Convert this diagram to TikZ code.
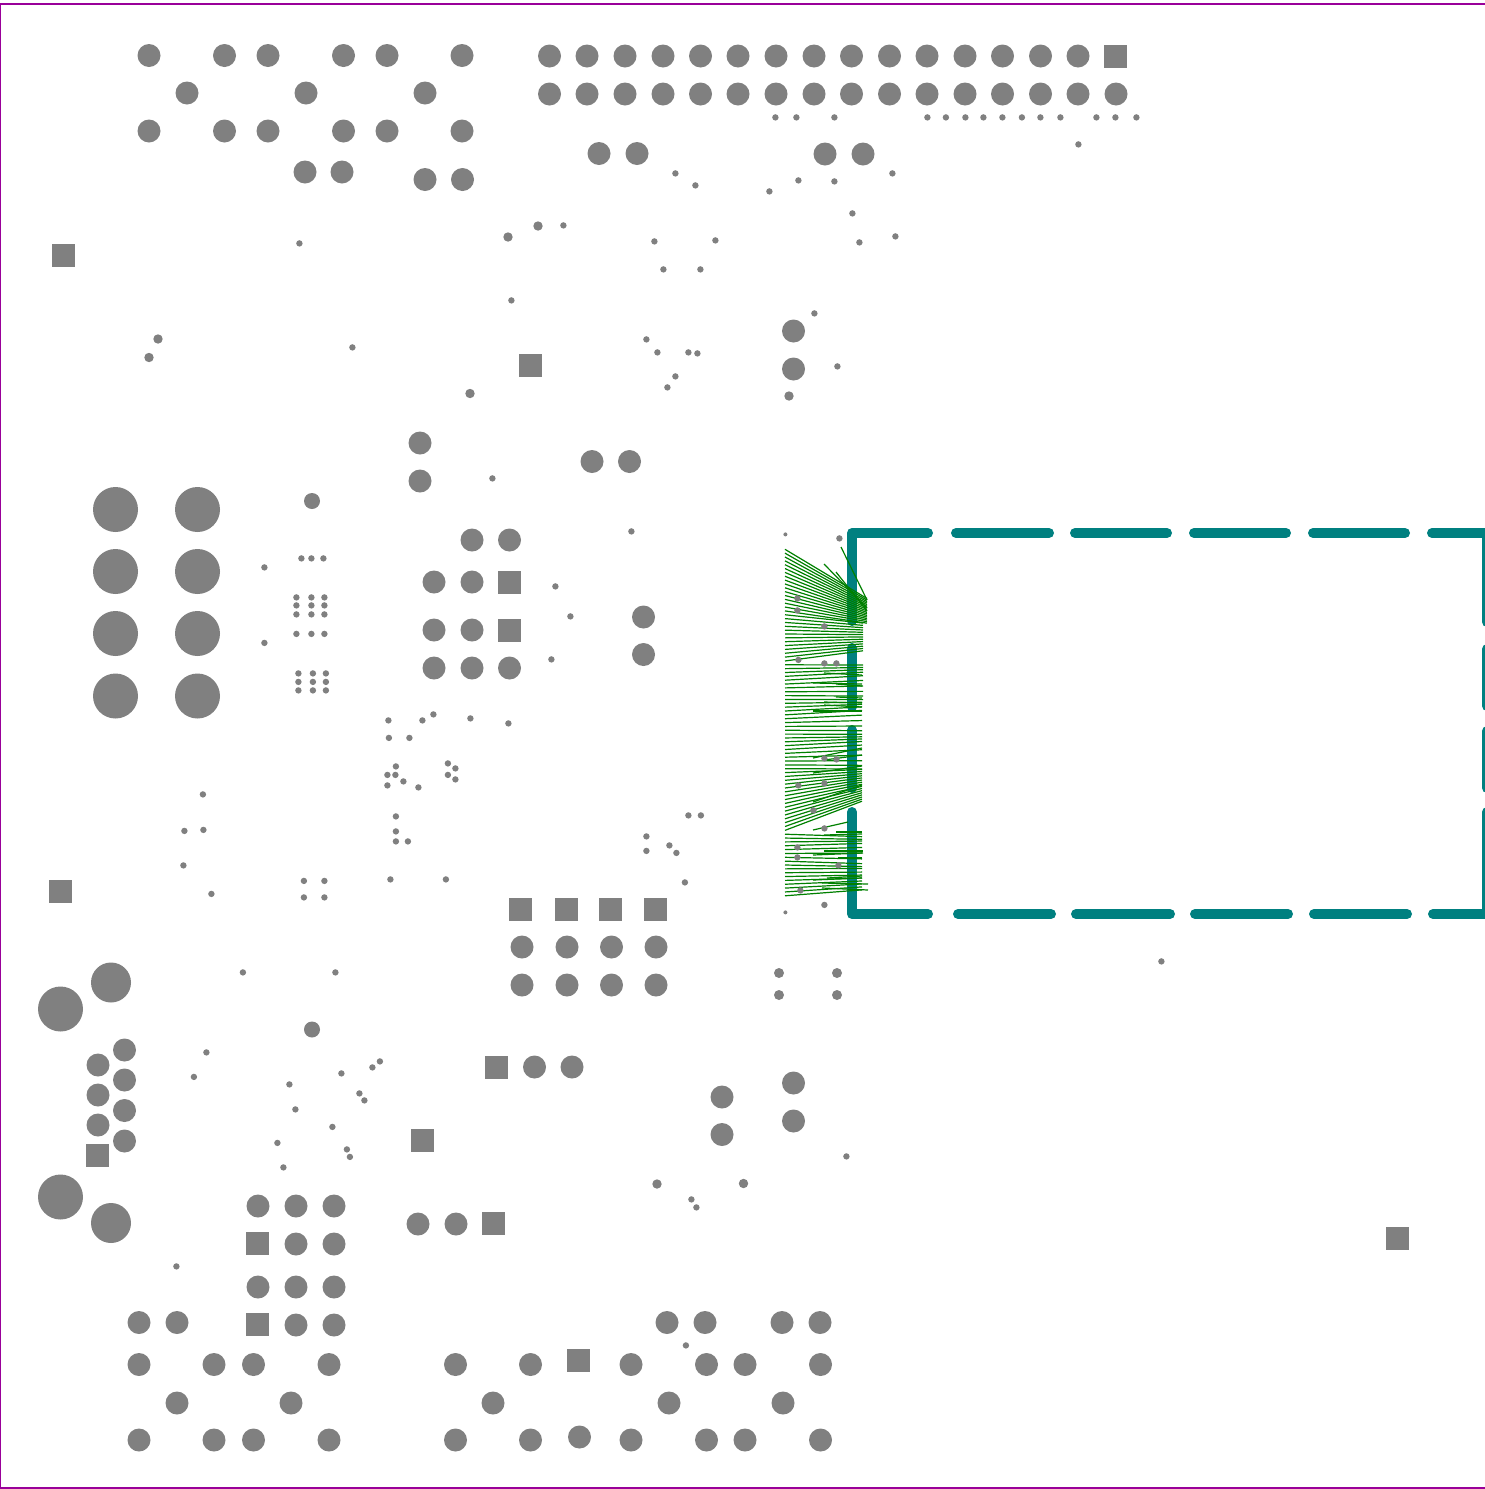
\documentclass[tikz,border=0pt]{standalone}
\definecolor{boardedge}{RGB}{153,0,153}
\definecolor{tracegreen}{RGB}{0,128,0}
\tikzset{
  pad/.style={fill=gray},
  trace/.style={draw=tracegreen,line width=1.2pt},
  outline/.style={draw=teal,line width=10pt,line cap=round,line join=round}
}
\begin{document}
\begin{tikzpicture}[x=1pt,y=-1pt]
  \clip (0,0) rectangle (1485,1489);
  \draw[draw=boardedge,line width=1.3pt] (0.5,4) rectangle (1495,1488);
  \draw[outline] (928,533) -- (852,533) -- (852,621);
  \draw[outline] (928,914) -- (852,914) -- (852,812);
  \draw[outline] (852,648) -- (852,707);
  \draw[outline] (852,730) -- (852,788);
  \foreach \a/\b in {956/1049,1075/1167,1194/1286,1313/1405} \draw[outline] (\a,533) -- (\b,533);
  \foreach \a/\b in {958/1051,1076/1170,1195/1288,1314/1407} \draw[outline] (\a,914) -- (\b,914);
  \draw[outline] (1432,533) -- (1487,533) -- (1487,622);
  \draw[outline] (1433,914) -- (1487,914) -- (1487,812);
  \draw[outline] (1487,649) -- (1487,706);
  \draw[outline] (1487,731) -- (1487,788);
  \foreach \i in {0,...,90} {
    \pgfmathsetmacro{\yl}{549.3+3.85*\i}
    \pgfmathsetmacro{\yr}{\yl<613 ? 598+0.4*(\yl-548) : (\yl<663 ? 622+0.6*(\yl-613) : (\yl<770 ? \yl-2+2.5*sin(40*\i) : (\yl<834 ? 768+0.55*(\yl-770) : (\yl<870 ? \yl+2.5*sin(50*\i) : 870+0.77*(\yl-870)))))}
    \pgfmathsetmacro{\xr}{\yl<613 ? 867 : (\yl<700 ? 863 : 862)}
    \draw[trace] (785,\yl) -- (\xr,\yr);
  }
  \foreach \a/\b/\c/\d in {841/547/867/600,824/564/867/608,836/572/867/611,824/673/862/675,
    813/683/862/684,836/684/862/686,836/697/862/698,824/702/862/703,824/705/862/707,813/711/862/711,
    813/758/862/748,824/760/862/755,813/773/862/766,813/802/862/785,813/830/848/822,824/835/862/834,
    836/832/862/832,813/855/863/853,824/851/863/851,838/858/862/858,813/880/862/878,827/878/862/876,
    822/883/868/884,822/888/868/890} \draw[trace] (\a,\b) -- (\c,\d);
  % big through holes
  \foreach \x/\y in {149/55.5,224.5/55.5,268/55.5,343.5/55.5,387/55.5,462/55.5,187/93,306/93,425/93,149/131,224.5/131,268/131,343.5/131,387/131,462/131,
    305/172,342/172,425/179.5,462.5/179.5,599/153.5,637/153.5,825/154,863/154,793.5/331,793.5/369,420/443,420/481,592/461.5,629.5/461.5,
    472/540,509.5/540,434/582,472/582,434/630,472/630,434/668,472/668,509.5/668,643.5/617,643.5/654.5,
    522/947,567/947,611.5/947,656/947,522/985,567/985,611.5/985,656/985,
    124.5/1050,124.5/1080,124.5/1110.5,124.5/1141,98/1065,98/1095,98/1125,534.5/1067,572/1067,
    722/1097,722/1134.5,793.5/1083,793.5/1121,258/1206,296/1206,334/1206,296/1244,334/1244,258/1287,296/1287,334/1287,296/1325,334/1325,
    418/1224,456/1224,139/1322.5,177/1322.5,667/1322.5,705/1322.5,782/1322.5,820/1322.5,
    139/1364.5,214/1364.5,253.5/1364.5,329/1364.5,455.5/1364.5,530.5/1364.5,631/1364.5,706.5/1364.5,745/1364.5,820.5/1364.5,
    177/1403,291/1403,493/1403,669/1403,783/1403,
    139/1440,214/1440,253.5/1440,329/1440,455.5/1440,530.5/1440,631/1440,706.5/1440,745/1440,820.5/1440,579.5/1437}
    \fill[pad] (\x,\y) circle (11.5pt);
  \foreach \x in {549.5,587,625,663,700.5,738,776,814,851.5,889.5,927,965,1002.5,1040.5,1078} \fill[pad] (\x,56) circle (11.5pt);
  \foreach \x in {549.5,587,625,663,700.5,738,776,814,851.5,889.5,927,965,1002.5,1040.5,1078,1116} \fill[pad] (\x,94) circle (11.5pt);
  % square pads
  \foreach \x/\y in {1115.5/56,63.5/255,530.5/365,509.5/582,509.5/630,60.5/891.5,520.5/909,566.5/909,610.5/909,655.5/909,496.5/1067,
    97.5/1155.5,422.5/1140.5,257.5/1243.5,257.5/1324.5,493.5/1223.5,1397.5/1238.5,578.5/1360.5}
    \fill[pad] (\x-11.5,\y-11.5) rectangle ++(23,23);
  % mounting holes
  \foreach \x/\y in {115.5/509.5,197.5/509.5,115.5/571.5,197.5/571.5,115.5/633.5,197.5/633.5,115.5/696,197.5/696,60.5/1009,60.5/1197}
    \fill[pad] (\x,\y) circle (22.5pt);
  \fill[pad] (111,982.5) circle (20pt);
  \fill[pad] (111,1223) circle (20pt);
  \fill[pad] (312,501) circle (8pt);
  \fill[pad] (312,1029.5) circle (8pt);
  \foreach \x/\y in {508/237,538/226,158/339,149/357.5,470/393.5,789/396,657/1184,743.5/1183.5} \fill[pad] (\x,\y) circle (4.7pt);
  \foreach \x/\y in {779/973,837/973,779/995,837/995} \fill[pad] (\x,\y) circle (5pt);
  % vias
  \begin{scope}[shift={(0.4,0.4)}]
  \foreach \x in {775,796,834,927,945.5,965,983,1002,1021.5,1040,1060,1096,1115,1136} \fill[pad] (\x,117) circle (3.2pt);
  \foreach \x/\y in {1078/144,675/173,695/185,769/191,798/180,834/181,892/173,852/213,859/242,895/236,715/240,654/241,663/269,700/269,
    563/225,511/300,299/243,352/347,646/339,657/352,688/352,697/353,675/376,667/387,814/313,837/366,492/478,631/531,
    555/586,570/616,551/659,301/558,311/558,323/558,296/597,311/597,324/597,296/605,311/605,324/605,296/614,311/614,324/614,
    296/633.5,311/633.5,324/633.5,298/673,312.5/673,325.5/673,298/681.5,312.5/681.5,325.5/681.5,298/690,312.5/690,325.5/690,264/567,264/642.5,
    388/720,388.5/737.5,409/737.5,422/720,433/714,470/718,508/723,395.5/766,395/774.5,387/774.5,387/785,403/781,418/787,
    447.5/763,455/768,447.5/774.5,455/779,395.5/816,395.5/831,395.5/841,407.5/841,390/879,445.5/879,
    202.5/794,184/830.5,203/829.5,183/865,211/893.5,303.5/880.5,324/880.5,303.5/897,324/897,
    646/836,646/850.5,669/845,676/852.5,688/815,700.5/815,684.5/882,839/538,824/904.5,
    797/598,797/610,824/626,798/659.5,824/663,836/663,824/758,836/759,798/785,824/783,813/810,824/828,797/847,797/857,838/865,800/890,
    1161/961,242.5/972,335/972,206/1052,193.5/1076.5,289/1084,295/1109,277/1142.5,283/1167,332/1126.5,346.5/1149,349.5/1156.5,
    341/1073,359/1093,364/1100,372/1067,379.5/1061,846/1156,691/1199,696/1207,176/1266,685.5/1345}
    \fill[pad] (\x,\y) circle (3.2pt);
  \fill[pad] (785,534) circle (2pt);
  \fill[pad] (785,912) circle (2pt);
  \end{scope}
\end{tikzpicture}
\end{document}
